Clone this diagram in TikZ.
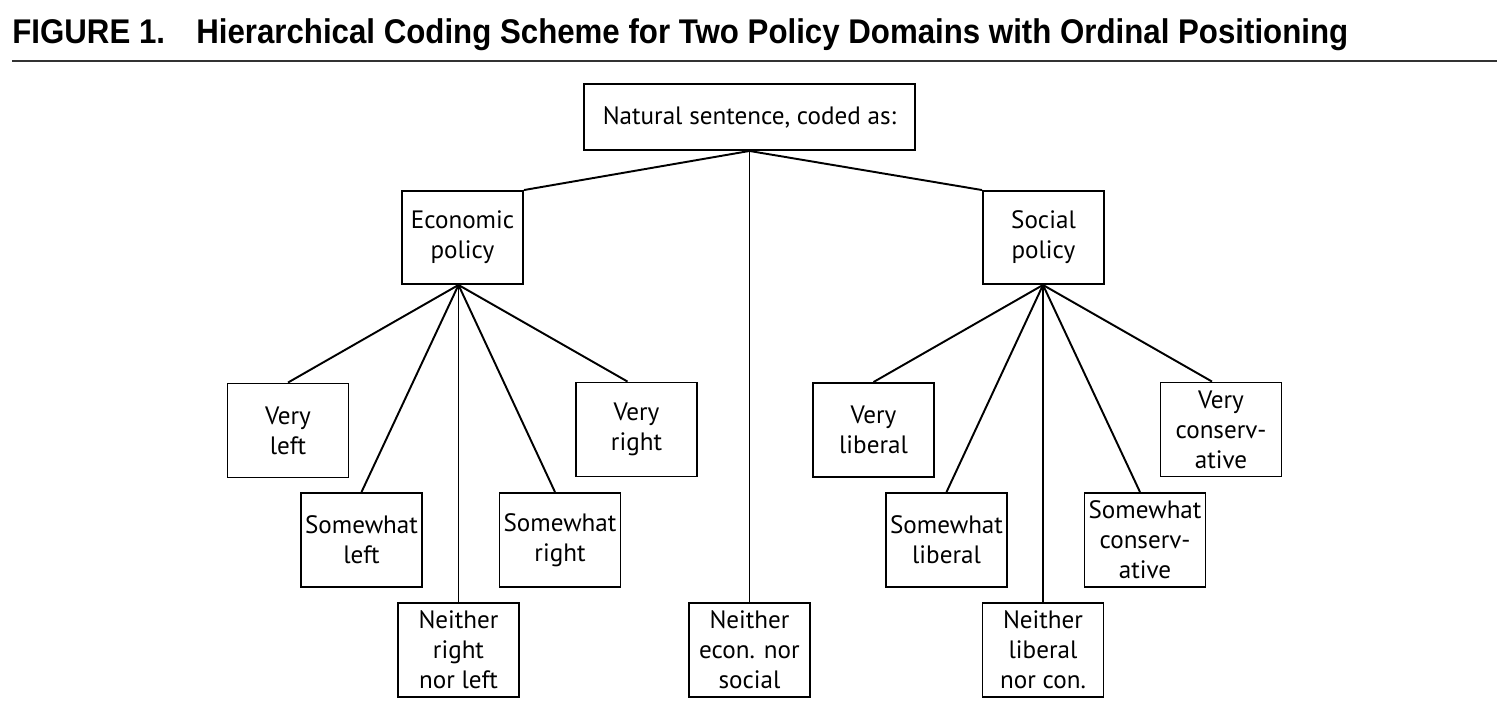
\documentclass[tikz,border=0pt]{standalone}
\usepackage{fontspec}
\setmainfont{PT Sans}
\newfontfamily\titlefont{Liberation Sans}
\usetikzlibrary{positioning}
\tikzstyle{cat} = [rectangle, draw=black, line width=1.1pt, align=center, inner sep=0pt, minimum width=2.42cm, minimum height=1.88cm, font=\fontsize{14.3}{17}\selectfont]
\tikzstyle{policybox} = [cat, minimum width=2.42cm, minimum height=1.86cm]
\tikzstyle{rootbox} = [cat, minimum width=6.62cm, minimum height=1.32cm]
\tikzstyle{link} = [line width=1.1pt]

\begin{document}
\begin{tikzpicture}[x=0.02cm, y=-0.02cm]

	\useasboundingbox (0,0) rectangle (1512,708);

	\node (title) [anchor=base west, inner sep=0pt, font=\titlefont\bfseries\fontsize{19.5}{22}\selectfont] at (12,43)
		{\resizebox{26.72cm}{\height}{FIGURE 1.\hspace{1em}Hierarchical Coding Scheme for Two Policy Domains with Ordinal Positioning}};
	\draw [line width=1.6pt, black!80] (12,61) -- (1497,61);

	\node (root) [rootbox] at (749.5,117) {Natural sentence, coded as:};
	\node (econ) [policybox] at (462.5,237.5) {Economic\\policy};
	\node (social) [policybox] at (1043.5,237.5) {Social\\policy};
	\node (neither) [cat] at (749.5,650) {Neither\\econ. nor\\social};

	\node (vleft) [cat] at (288,430.5) {Very\\left};
	\node (sleft) [cat] at (361.5,540) {Somewhat\\left};
	\node (nleft) [cat] at (458.5,650) {Neither\\right\\nor left};
	\node (sright) [cat] at (560,540) {Somewhat\\right};
	\node (vright) [cat] at (636.5,429.5) {Very\\right};

	\node (vlib) [cat] at (873.5,430) {Very\\liberal};
	\node (slib) [cat] at (946.5,540) {Somewhat\\liberal};
	\node (nlib) [cat] at (1043,650) {Neither\\liberal\\nor con.};
	\node (scon) [cat] at (1145,540) {Somewhat\\conserv-\\ative};
	\node (vcon) [cat] at (1221,429.5) {Very\\conserv-\\ative};

	\coordinate (ehub) at (econ.south -| nleft.north);
	\coordinate (shub) at (social.south -| nlib.north);

	\draw [link] (root.south) -- (econ.north east);
	\draw [link] (root.south) -- (social.north west);
	\draw [link] (root.south) -- (neither.north);

	\draw [link] (ehub) -- (vleft.north);
	\draw [link] (ehub) -- (sleft.north);
	\draw [link] (ehub) -- (nleft.north);
	\draw [link] (ehub) -- ([xshift=-0.1cm]sright.north);
	\draw [link] (ehub) -- ([xshift=-0.18cm]vright.north);

	\draw [link] (shub) -- (vlib.north);
	\draw [link] (shub) -- (slib.north);
	\draw [link] (shub) -- (nlib.north);
	\draw [link] (shub) -- ([xshift=-0.1cm]scon.north);
	\draw [link] (shub) -- ([xshift=-0.18cm]vcon.north);

\end{tikzpicture}
\end{document}
